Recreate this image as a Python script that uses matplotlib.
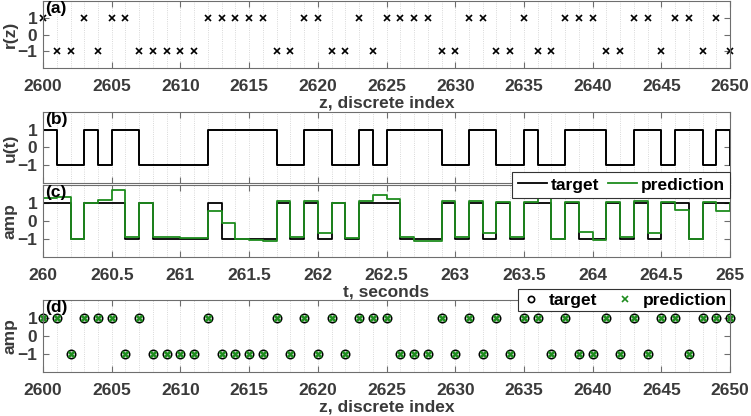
import numpy as np
import matplotlib
matplotlib.use('Agg')
import matplotlib.pyplot as plt
from matplotlib.ticker import MultipleLocator, FormatStrFormatter

# -------------------------- 全局样式 --------------------------
plt.rcParams['font.family'] = ['Liberation Sans', 'DejaVu Sans']
plt.rcParams['font.weight'] = 'bold'
plt.rcParams['axes.labelweight'] = 'bold'
plt.rcParams['font.size'] = 12

TXT = '#3a3a3a'
AX = '#6e6e6e'
GREEN = '#1e8c1e'
FS = 12.5

# -------------------------- 数据 --------------------------
z_idx = np.arange(2600, 2651)

# (a) r(z), 也是 (b) 的 u(t)
r_seq = [1, -1, -1, 1, -1, 1, 1, -1, -1, -1,
         -1, -1, 1, 1, 1, 1, 1, -1, -1, 1,
         1, -1, -1, 1, -1, 1, 1, 1, 1, -1,
         -1, 1, 1, -1, -1, 1, -1, -1, 1, 1,
         1, -1, -1, 1, 1, -1, 1, 1, -1, 1, -1]

# (c)/(d) target
target_seq = [1, 1, -1, 1, 1, 1, -1, 1, -1, -1,
              -1, -1, 1, -1, -1, -1, -1, 1, -1, 1,
              -1, 1, -1, 1, 1, 1, -1, -1, -1, 1,
              -1, 1, -1, 1, -1, 1, 1, -1, 1, -1,
              -1, 1, -1, 1, -1, 1, 1, -1, 1, 1, 1]

# (c) prediction (每个符号一个值, 第一个值为 260 s 之前)
pred_prev = -0.8
pred_seq = [1.3, 1.35, -1.02, 1.0, 1.15, 1.7, -0.88, 1.0, -0.9, -0.92,
            -0.95, -0.97, 0.55, -0.1, -1.02, -1.07, -1.1, 1.12, -0.88, 1.1,
            -0.7, 1.0, -0.95, 1.1, 1.45, 1.22, -0.88, -1.1, -1.1, 1.1,
            -0.88, 1.1, -0.7, 1.05, -0.88, 1.07, 1.45, -1.02, 1.03, -0.65,
            -1.08, 1.05, -0.88, 1.1, -0.7, 1.03, 0.6, -1.03, 1.03, 0.55, 1.0]

t_sec = 260 + 0.1 * np.arange(len(r_seq))


def style_axes(ax, major, minor, fmt='%g'):
    ax.set_ylim(-2, 2)
    ax.set_yticks([-1, 0, 1])
    ax.xaxis.set_major_locator(MultipleLocator(major))
    ax.xaxis.set_minor_locator(MultipleLocator(minor))
    ax.xaxis.set_major_formatter(FormatStrFormatter(fmt))
    ax.tick_params(which='both', direction='in', top=True, right=True,
                   colors=AX, labelcolor=TXT, labelsize=FS)
    ax.tick_params(which='major', length=4, pad=4)
    ax.tick_params(axis='x', which='major', pad=8)
    ax.tick_params(which='minor', length=0)
    ax.grid(True, axis='x', which='both', ls=':', lw=0.6, color='#cccccc')
    for sp in ax.spines.values():
        sp.set_color(AX)
        sp.set_linewidth(0.8)
    ax.yaxis.label.set_color(TXT)
    ax.xaxis.label.set_color(TXT)
    for lab in ax.get_xticklabels() + ax.get_yticklabels():
        lab.set_fontweight('bold')


def panel_tag(ax, s):
    ax.text(0.003, 1.0, s, transform=ax.transAxes, ha='left', va='top',
            fontsize=FS, fontweight='bold', color='black')


fig = plt.figure(figsize=(7.51, 4.16), dpi=100)
L, W = 0.0573, 0.9148

# (a)
ax1 = fig.add_axes([L, 0.8365, W, 0.16])
ax1.plot(z_idx, r_seq, 'x', color='black', ms=5, mew=1.2, clip_on=False)
ax1.set_xlim(2600, 2650)
style_axes(ax1, 5, 1)
ax1.set_ylabel('r(z)', fontsize=FS, labelpad=0)
ax1.set_xlabel('z, discrete index', fontsize=FS, labelpad=1)
panel_tag(ax1, '(a)')

# (b)
ax2 = fig.add_axes([L, 0.5608, W, 0.17])
ax2.step(t_sec, r_seq, where='post', color='black', lw=1.4)
ax2.set_xlim(260, 265)
style_axes(ax2, 0.5, 0.1)
ax2.set_xticklabels([])
ax2.set_ylabel('u(t)', fontsize=FS, labelpad=0)
panel_tag(ax2, '(b)')

# (c)
ax3 = fig.add_axes([L, 0.383, W, 0.1723])
ax3.step(t_sec, target_seq, where='post', color='black', lw=1.3, label='target')
t_pred = np.concatenate([[t_sec[0] - 0.1], t_sec])
ax3.step(t_pred, [pred_prev] + pred_seq, where='post', color=GREEN, lw=1.3,
         label='prediction')
ax3.set_xlim(260, 265)
style_axes(ax3, 0.5, 0.1)
ax3.set_ylabel('amp', fontsize=FS, labelpad=0)
ax3.set_xlabel('t, seconds', fontsize=FS, labelpad=1)
panel_tag(ax3, '(c)')
leg3 = ax3.legend(loc='center right', bbox_to_anchor=(1.0, 1.0), ncol=2,
                  fancybox=False, framealpha=1, edgecolor='#333333',
                  prop={'weight': 'bold', 'size': FS}, handlelength=1.7,
                  handletextpad=0.2, columnspacing=0.5, borderpad=0.3,
                  borderaxespad=0)
leg3.get_frame().set_linewidth(0.8)

# (d)
ax4 = fig.add_axes([L, 0.1065, W, 0.1723])
ax4.plot(z_idx, target_seq, 'o', mfc='none', mec='black', ms=6, mew=1.2,
         label='target', clip_on=False)
ax4.plot(z_idx, target_seq, 'x', color=GREEN, ms=4, mew=1.8,
         label='prediction', clip_on=False)
ax4.set_xlim(2600, 2650)
style_axes(ax4, 5, 1)
ax4.set_ylabel('amp', fontsize=FS, labelpad=0)
ax4.set_xlabel('z, discrete index', fontsize=FS, labelpad=1)
panel_tag(ax4, '(d)')
leg4 = ax4.legend(loc='center right', bbox_to_anchor=(1.0, 1.0), ncol=2,
                  fancybox=False, framealpha=1, edgecolor='#333333',
                  prop={'weight': 'bold', 'size': FS}, handlelength=1.2,
                  handletextpad=0.4, columnspacing=1.0, borderpad=0.2,
                  borderaxespad=0)
leg4.get_frame().set_linewidth(0.8)
for h in leg4.legend_handles:
    h.set_markersize(4.5)
    h.set_markeredgewidth(1.2)

fig.savefig('out.png', dpi=100)
